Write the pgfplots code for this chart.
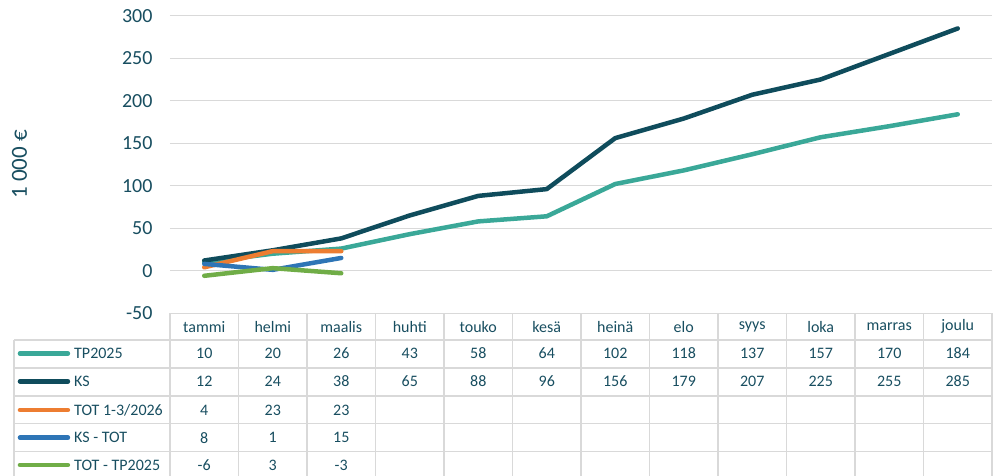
\documentclass[border=0pt]{standalone}
\usepackage{fontspec}
\setmainfont{Carlito}
\usepackage{pgfplots}
\usepackage{pgfplotstable}
\pgfplotsset{compat=1.18}

\definecolor{tpc}{RGB}{58,168,152}
\definecolor{ksc}{RGB}{15,76,92}
\definecolor{totc}{RGB}{237,125,49}
\definecolor{kstotc}{RGB}{46,117,182}
\definecolor{tottpc}{RGB}{112,173,71}
\definecolor{txt}{RGB}{24,78,96}
\definecolor{gridc}{RGB}{217,217,217}

% x = column centre, months tammi..joulu
\pgfplotstableread{
x tp ks
0.5 10 12
1.5 20 24
2.5 26 38
3.5 43 65
4.5 58 88
5.5 64 96
6.5 102 156
7.5 118 179
8.5 137 207
9.5 157 225
10.5 170 255
11.5 184 285
}\full
\pgfplotstableread{
x tot kstot tottp
0.5 4 8 -6
1.5 23 1 3
2.5 23 15 -3
}\short

\begin{document}
\begin{tikzpicture}[font=\fontsize{16}{19}\selectfont]
\begin{axis}[name=ax,
  scale only axis, width=822pt, height=297.5pt,
  xmin=0, xmax=12, ymin=-50, ymax=300,
  ytick={-50,0,50,...,300}, xtick=\empty,
  axis line style={draw=none}, major tick length=0pt,
  ymajorgrids, grid style={gridc, line width=1.2pt},
  /pgf/number format/assume math mode=true,
  yticklabel style={font=\fontsize{20}{24}\selectfont, text=txt, anchor=east, xshift=-14pt},
  ylabel={1 000 €},
  ylabel style={font=\fontsize{23}{26}\selectfont, text=txt, at={(axis description cs:-0.183,0.5)}, anchor=center},
  clip=false,
  every node near coord/.append style={anchor=center, text=txt, font=\fontsize{16}{19}\selectfont},
]
% table borders
\draw[gridc, line width=1.2pt] (axis cs:0,-50) -- (axis cs:0,-245);
\foreach \i in {1,...,12}{
  \edef\tmp{\noexpand\draw[gridc, line width=1.2pt] (axis cs:\i,-50) -- (axis cs:\i,-245);}\tmp
}
\draw[gridc, line width=1.2pt] (axis cs:-2.277,-81.5) -- (axis cs:-2.277,-245);
\foreach \yy in {-81.5,-114.5,-147.4,-179.8,-212.7}{
  \edef\tmp{\noexpand\draw[gridc, line width=1.2pt] (axis cs:-2.277,\yy) -- (axis cs:12,\yy);}\tmp
}
% header
\foreach \m [count=\k from 0] in {tammi,helmi,maalis,huhti,touko,kesä,heinä,elo,syys,loka,marras,joulu}{
  \edef\tmp{\noexpand\node[text=txt, anchor=center] at (axis cs:\k+0.5,-65.8) {\m};}\tmp
}

% lines
\addplot[tpc, line width=4.5pt, line cap=round, line join=round] table[x=x, y=tp] {\full};
\addplot[ksc, line width=4.5pt, line cap=round, line join=round] table[x=x, y=ks] {\full};
\addplot[totc, line width=4.5pt, line cap=round, line join=round] table[x=x, y=tot] {\short};
\addplot[kstotc, line width=4.5pt, line cap=round, line join=round] table[x=x, y=kstot] {\short};
\addplot[tottpc, line width=4.5pt, line cap=round, line join=round] table[x=x, y=tottp] {\short};

% data table values
\addplot[draw=none, nodes near coords, point meta=explicit] table[x=x, y expr=-97.4, meta=tp] {\full};
\addplot[draw=none, nodes near coords, point meta=explicit] table[x=x, y expr=-130.2, meta=ks] {\full};
\addplot[draw=none, nodes near coords, point meta=explicit] table[x=x, y expr=-163.9, meta=tot] {\short};
\addplot[draw=none, nodes near coords, point meta=explicit] table[x=x, y expr=-196.5, meta=kstot] {\short};
\addplot[draw=none, nodes near coords, point meta=explicit] table[x=x, y expr=-228.6, meta=tottp] {\short};

% legend keys
\draw[tpc, line width=4.5pt, line cap=round] (axis cs:-2.19,-97.4) -- (axis cs:-1.49,-97.4);
\node[text=txt, anchor=west] at (axis cs:-1.45,-97.4) {TP2025};
\draw[ksc, line width=4.5pt, line cap=round] (axis cs:-2.19,-130.2) -- (axis cs:-1.49,-130.2);
\node[text=txt, anchor=west] at (axis cs:-1.45,-130.2) {KS};
\draw[totc, line width=4.5pt, line cap=round] (axis cs:-2.19,-163.9) -- (axis cs:-1.49,-163.9);
\node[text=txt, anchor=west] at (axis cs:-1.45,-163.9) {TOT 1-3/2026};
\draw[kstotc, line width=4.5pt, line cap=round] (axis cs:-2.19,-196.5) -- (axis cs:-1.49,-196.5);
\node[text=txt, anchor=west] at (axis cs:-1.45,-196.5) {KS - TOT};
\draw[tottpc, line width=4.5pt, line cap=round] (axis cs:-2.19,-228.6) -- (axis cs:-1.49,-228.6);
\node[text=txt, anchor=west] at (axis cs:-1.45,-228.6) {TOT - TP2025};
\end{axis}
\pgfresetboundingbox
\path[use as bounding box] ([xshift=-170pt,yshift=-162.8pt]ax.south west) rectangle ([xshift=1pt,yshift=15.7pt]ax.north east);
\end{tikzpicture}
\end{document}
